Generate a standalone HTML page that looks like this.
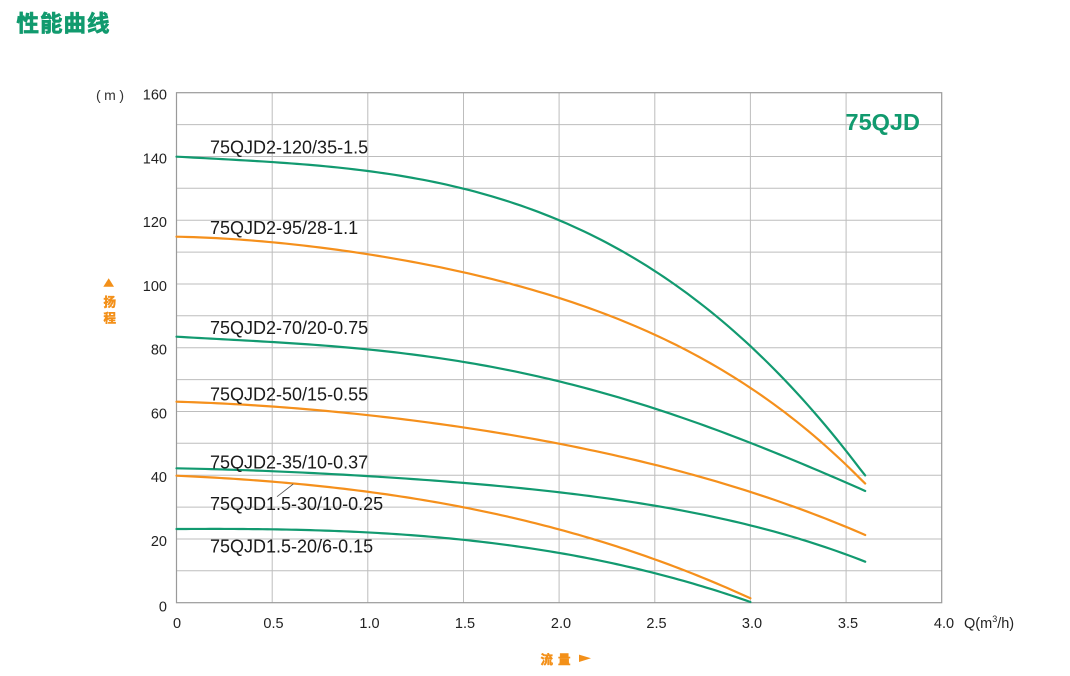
<!DOCTYPE html>
<html><head><meta charset="utf-8"><style>
html,body{margin:0;padding:0;background:#fff;}
svg{display:block;}
.t{font-family:"Liberation Sans","Noto Sans CJK SC",sans-serif;}
</style></head><body>
<svg width="1070" height="676" viewBox="0 0 1070 676" xmlns="http://www.w3.org/2000/svg">
<rect width="1070" height="676" fill="#fff"/>
<text x="16.5" y="31.5" font-size="22.5" font-weight="bold" fill="#119a6e" stroke="#119a6e" stroke-width="0.7" letter-spacing="1" font-family="'Noto Sans CJK SC',sans-serif">性能曲线</text>

<g stroke="#bdbdbd" stroke-width="1">
<line x1="272.2" y1="92.7" x2="272.2" y2="602.7"/>
<line x1="367.8" y1="92.7" x2="367.8" y2="602.7"/>
<line x1="463.5" y1="92.7" x2="463.5" y2="602.7"/>
<line x1="559.1" y1="92.7" x2="559.1" y2="602.7"/>
<line x1="654.8" y1="92.7" x2="654.8" y2="602.7"/>
<line x1="750.4" y1="92.7" x2="750.4" y2="602.7"/>
<line x1="846.1" y1="92.7" x2="846.1" y2="602.7"/>
<line x1="176.5" y1="124.6" x2="941.7" y2="124.6"/>
<line x1="176.5" y1="156.45" x2="941.7" y2="156.45"/>
<line x1="176.5" y1="188.3" x2="941.7" y2="188.3"/>
<line x1="176.5" y1="220.2" x2="941.7" y2="220.2"/>
<line x1="176.5" y1="252.1" x2="941.7" y2="252.1"/>
<line x1="176.5" y1="283.95" x2="941.7" y2="283.95"/>
<line x1="176.5" y1="315.8" x2="941.7" y2="315.8"/>
<line x1="176.5" y1="347.7" x2="941.7" y2="347.7"/>
<line x1="176.5" y1="379.6" x2="941.7" y2="379.6"/>
<line x1="176.5" y1="411.45" x2="941.7" y2="411.45"/>
<line x1="176.5" y1="443.3" x2="941.7" y2="443.3"/>
<line x1="176.5" y1="475.2" x2="941.7" y2="475.2"/>
<line x1="176.5" y1="507.1" x2="941.7" y2="507.1"/>
<line x1="176.5" y1="538.95" x2="941.7" y2="538.95"/>
<line x1="176.5" y1="570.8" x2="941.7" y2="570.8"/>
</g>
<rect x="176.5" y="92.7" width="765.2" height="510" fill="none" stroke="#9a9a9a" stroke-width="1.2"/>

<g class="t" font-size="14.5" fill="#222" text-anchor="end">
<text x="167" y="99.7">160</text>
<text x="167" y="163.5">140</text>
<text x="167" y="227.2">120</text>
<text x="167" y="291">100</text>
<text x="167" y="354.7">80</text>
<text x="167" y="418.5">60</text>
<text x="167" y="482.2">40</text>
<text x="167" y="546">20</text>
<text x="167" y="611.7">0</text>
</g>
<text class="t" x="96" y="100" font-size="14" fill="#333" letter-spacing="3.5">(m)</text>

<g class="t" font-size="14.5" fill="#222" text-anchor="middle">
<text x="177" y="628">0</text>
<text x="273.5" y="628">0.5</text>
<text x="369.5" y="628">1.0</text>
<text x="465" y="628">1.5</text>
<text x="561" y="628">2.0</text>
<text x="656.5" y="628">2.5</text>
<text x="752" y="628">3.0</text>
<text x="848" y="628">3.5</text>
<text x="944" y="628">4.0</text>
</g>
<text class="t" x="964" y="628" font-size="14.5" fill="#222">Q(m<tspan font-size="9" dy="-6">3</tspan><tspan dy="6">/h)</tspan></text>

<polygon points="108.7,278.3 114,286.7 103.3,286.7" fill="#f39019"/>
<text x="103.5" y="306.5" font-size="12.5" font-weight="bold" fill="#f39019" stroke="#f39019" stroke-width="0.5" font-family="'Noto Sans CJK SC',sans-serif">扬</text>
<text x="103.5" y="322.5" font-size="12.5" font-weight="bold" fill="#f39019" stroke="#f39019" stroke-width="0.5" font-family="'Noto Sans CJK SC',sans-serif">程</text>
<text x="540.5" y="664" font-size="12.5" font-weight="bold" fill="#f39019" stroke="#f39019" stroke-width="0.5" letter-spacing="5" font-family="'Noto Sans CJK SC',sans-serif">流量</text>
<polygon points="579,654.6 591,658.3 579,662" fill="#f39019"/>

<text class="t" x="845.5" y="130" font-size="23.5" font-weight="bold" fill="#119a6e">75QJD</text>

<g fill="none" stroke-width="2.2" stroke-linecap="round" stroke-linejoin="round">
<path class="cv" stroke="#f5901c" d="M176.5,236.7 L272.2,242.7 L367.8,253.3 L463.5,272.7 L559.1,298.7 L654.8,335.5 L703.3,356.7 L750.4,388.3 L846.1,468.3 L865.2,483.3"/>
<path class="cv" stroke="#f5901c" d="M176.5,401.7 L272.2,406.7 L367.8,415 L463.5,427.3 L559.1,443.8 L654.8,465 L750.4,491.7 L865.2,535"/>
<path class="cv" stroke="#f5901c" d="M176.5,475.7 L272.2,481.7 L367.8,491.7 L463.5,507.3 L559.1,529.5 L654.8,559.3 L750.4,598.3"/>
<path class="cv" stroke="#129a70" d="M176.5,156.7 L272.2,161 L367.8,171 L463.5,190 L559.1,221 L654.8,268.3 L720,320 L750.4,345.5 L846.1,456.7 L865.2,475"/>
<path class="cv" stroke="#129a70" d="M176.5,336.7 L272.2,342 L367.8,349.3 L463.5,362.3 L559.1,381 L654.8,408.5 L750.4,443.3 L846.1,481.7 L865.2,491"/>
<path class="cv" stroke="#129a70" d="M176.5,468.3 L272.2,471.7 L367.8,475.7 L463.5,482.7 L559.1,492.5 L654.8,506 L750.4,525 L865.2,561.7"/>
<path class="cv" stroke="#129a70" d="M176.5,529 L272.2,530 L367.8,532.3 L463.5,539 L559.1,553.5 L654.8,573.3 L750.4,602"/>
</g>

<line x1="277" y1="496.7" x2="293.3" y2="484" stroke="#555" stroke-width="0.8"/>

<g class="t" font-size="18" fill="#1a1a1a">
<text x="210" y="153.3">75QJD2-120/35-1.5</text>
<text x="210" y="234">75QJD2-95/28-1.1</text>
<text x="210" y="334">75QJD2-70/20-0.75</text>
<text x="210" y="400.7">75QJD2-50/15-0.55</text>
<text x="210" y="468.3">75QJD2-35/10-0.37</text>
<text x="210" y="510">75QJD1.5-30/10-0.25</text>
<text x="210" y="552.7">75QJD1.5-20/6-0.15</text>
</g>
</svg>
<script>
(function(){
function solve(A,b){
 var n=b.length;
 for(var i=0;i<n;i++){
  var mx=i;for(var r=i+1;r<n;r++)if(Math.abs(A[r][i])>Math.abs(A[mx][i]))mx=r;
  var t=A[i];A[i]=A[mx];A[mx]=t;var tb=b[i];b[i]=b[mx];b[mx]=tb;
  for(var r=i+1;r<n;r++){var f=A[r][i]/A[i][i];for(var c=i;c<n;c++)A[r][c]-=f*A[i][c];b[r]-=f*b[i];}
 }
 var x=new Array(n);
 for(var i=n-1;i>=0;i--){var s=b[i];for(var c=i+1;c<n;c++)s-=A[i][c]*x[c];x[i]=s/A[i][i];}
 return x;
}
var ps=document.querySelectorAll('path.cv');
for(var k=0;k<ps.length;k++){
 var n=ps[k].getAttribute('d').match(/-?[\d.]+/g).map(Number);
 var xs=[],ys=[],ws=[];
 for(var i=0;i<n.length;i+=2){xs.push((n[i]-176.5)/191.3);ys.push(n[i+1]);}
 var N=xs.length;
 for(var i=0;i<N;i++)ws.push((i==0||i==N-1)?6:1);
 var deg=N>=8?4:3;
 var M=deg+1,A=[],b=[];
 for(var r=0;r<M;r++){A.push(new Array(M).fill(0));b.push(0);}
 for(var i=0;i<N;i++){
  for(var r=0;r<M;r++){
   b[r]+=ws[i]*ys[i]*Math.pow(xs[i],r);
   for(var c=0;c<M;c++)A[r][c]+=ws[i]*Math.pow(xs[i],r+c);
  }
 }
 var co=solve(A,b);
 var x0=xs[0],x1=xs[N-1],d='';
 var steps=120;
 for(var s=0;s<=steps;s++){
  var q=x0+(x1-x0)*s/steps,y=0;
  for(var r=0;r<M;r++)y+=co[r]*Math.pow(q,r);
  if(s==0)y=ys[0];if(s==steps)y=ys[N-1]*0.5+y*0.5;
  d+=(s?' L':'M')+(176.5+q*191.3).toFixed(2)+','+y.toFixed(2);
 }
 ps[k].setAttribute('d',d);
}
})();
</script>
</body></html>
